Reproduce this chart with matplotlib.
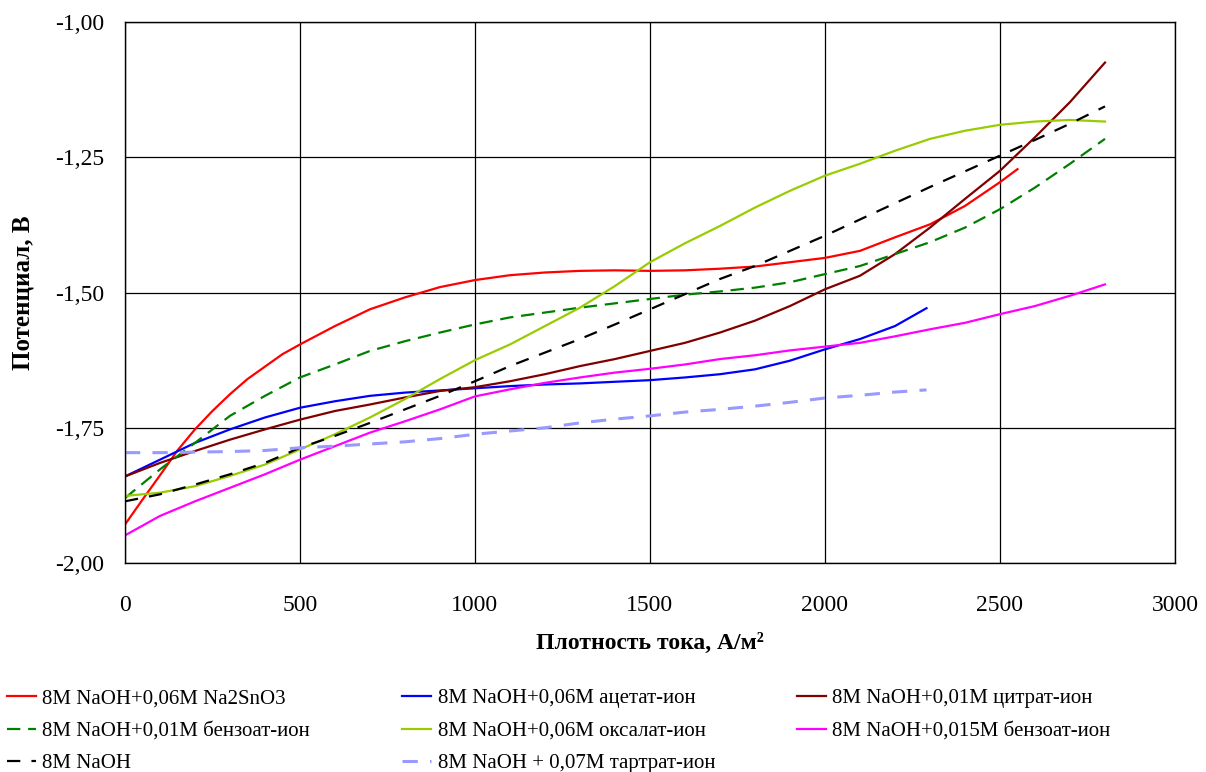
import numpy as np
import matplotlib
matplotlib.use("Agg")
import matplotlib.pyplot as plt

plt.rcParams["font.family"] = ["Liberation Serif", "DejaVu Serif"]

x_full = [0, 100, 200, 300, 400, 500, 600, 700, 800, 900, 1000, 1100, 1200, 1300,
          1400, 1500, 1600, 1700, 1800, 1900, 2000, 2100, 2200, 2300, 2400, 2500,
          2600, 2700, 2800]

# 8M NaOH+0,06M Na2SnO3 (ends at ~2550)
x_sn = [0, 50, 100, 150, 200, 250, 300, 350, 400, 450, 500, 600, 700, 800, 900, 1000,
        1100, 1200, 1300, 1400, 1500, 1600, 1700, 1800, 1900, 2000, 2100, 2200, 2300,
        2400, 2500, 2550]
y_sn = [-1.929, -1.883, -1.838, -1.792, -1.753, -1.719, -1.688, -1.660, -1.637, -1.614,
        -1.596, -1.562, -1.531, -1.509, -1.490, -1.477, -1.468, -1.463, -1.460, -1.459,
        -1.460, -1.459, -1.456, -1.452, -1.444, -1.436, -1.423, -1.398, -1.374, -1.340,
        -1.296, -1.272]

# 8M NaOH+0,06M ацетат-ион (ends at ~2290)
x_ac = x_full[:23] + [2290]
y_ac = [-1.840, -1.809, -1.778, -1.753, -1.731, -1.713, -1.701, -1.691, -1.685, -1.681,
        -1.677, -1.673, -1.670, -1.668, -1.665, -1.662, -1.657, -1.651, -1.642, -1.626,
        -1.605, -1.586, -1.562, -1.529]

# 8M NaOH+0,01M цитрат-ион
y_cit = [-1.840, -1.815, -1.793, -1.772, -1.753, -1.735, -1.719, -1.707, -1.694, -1.682,
         -1.675, -1.664, -1.651, -1.636, -1.623, -1.608, -1.593, -1.574, -1.552, -1.525,
         -1.494, -1.469, -1.429, -1.380, -1.327, -1.275, -1.213, -1.148, -1.075]

# 8M NaOH+0,01M бензоат-ион
y_bz1 = [-1.880, -1.827, -1.778, -1.728, -1.691, -1.657, -1.633, -1.608, -1.590, -1.574,
         -1.559, -1.546, -1.537, -1.528, -1.520, -1.512, -1.504, -1.498, -1.491, -1.481,
         -1.466, -1.451, -1.429, -1.407, -1.380, -1.346, -1.306, -1.262, -1.216]

# 8M NaOH+0,06M оксалат-ион
y_ox = [-1.876, -1.870, -1.858, -1.839, -1.818, -1.790, -1.762, -1.731, -1.697, -1.660,
        -1.625, -1.596, -1.562, -1.528, -1.488, -1.444, -1.409, -1.377, -1.343, -1.312,
        -1.284, -1.262, -1.238, -1.216, -1.201, -1.190, -1.184, -1.181, -1.184]

# 8M NaOH+0,015M бензоат-ион
y_bz2 = [-1.949, -1.913, -1.886, -1.861, -1.836, -1.809, -1.784, -1.759, -1.738, -1.716,
         -1.692, -1.679, -1.667, -1.657, -1.648, -1.641, -1.633, -1.623, -1.616, -1.607,
         -1.600, -1.593, -1.581, -1.568, -1.556, -1.540, -1.525, -1.506, -1.485]

# 8M NaOH
y_naoh = [-1.886, -1.873, -1.855, -1.836, -1.815, -1.787, -1.765, -1.741, -1.716, -1.691,
          -1.664, -1.636, -1.611, -1.586, -1.559, -1.531, -1.503, -1.475, -1.451, -1.423,
          -1.395, -1.365, -1.335, -1.305, -1.276, -1.247, -1.218, -1.188, -1.156]

# 8M NaOH + 0,07M тартрат-ион (ends at ~2290)
x_tar = x_full[:23] + [2290]
y_tar = [-1.796, -1.796, -1.795, -1.794, -1.792, -1.787, -1.784, -1.780, -1.776, -1.770,
         -1.762, -1.756, -1.750, -1.741, -1.734, -1.728, -1.721, -1.716, -1.710, -1.703,
         -1.695, -1.690, -1.684, -1.680]

fig = plt.figure(figsize=(12.06, 7.72), dpi=100)
ax = fig.add_axes([0.1036, 0.2707, 0.8707, 0.7008])

lw = 1.6
l_sn, = ax.plot(x_sn, y_sn, color="#ff0000", lw=lw, label="8M NaOH+0,06M Na2SnO3")
l_ac, = ax.plot(x_ac, y_ac, color="#0000ff", lw=lw, label="8M NaOH+0,06M ацетат-ион")
l_cit, = ax.plot(x_full, y_cit, color="#800000", lw=lw, label="8M NaOH+0,01M цитрат-ион")
l_bz1, = ax.plot(x_full, y_bz1, color="#008000", lw=lw, dashes=(6, 3.5),
                 label="8M NaOH+0,01M бензоат-ион")
l_ox, = ax.plot(x_full, y_ox, color="#99cc00", lw=lw, label="8M NaOH+0,06M оксалат-ион")
l_bz2, = ax.plot(x_full, y_bz2, color="#ff00ff", lw=lw, label="8M NaOH+0,015M бензоат-ион")
l_naoh, = ax.plot(x_full, y_naoh, color="#000000", lw=lw, dashes=(6, 5), label="8M NaOH")
l_tar, = ax.plot(x_tar, y_tar, color="#9999ff", lw=2.2, dashes=(5, 4),
                 label="8M NaOH + 0,07M тартрат-ион")

ax.set_xlim(0, 3000)
ax.set_ylim(-2.0, -1.0)
ax.set_xticks([0, 500, 1000, 1500, 2000, 2500, 3000])
yt = [-2.0, -1.75, -1.5, -1.25, -1.0]
ax.set_yticks(yt)
ax.set_yticklabels([("%.2f" % v).replace(".", ",") for v in yt])
ax.tick_params(labelsize=17, length=0)
ax.tick_params(axis="x", pad=23)
ax.tick_params(axis="y", pad=15)
ax.grid(True, color="#000000", lw=0.9)
for s in ax.spines.values():
    s.set_color("black")
    s.set_linewidth(1.0)

ax.set_xlabel("Плотность тока, А/м²", fontsize=17, fontweight="bold", labelpad=12)
ax.set_ylabel("Потенциал, В", fontsize=18, fontweight="bold", labelpad=15)

# one legend per column, Excel-style fixed column positions
columns = [[l_sn, l_bz1, l_naoh], [l_ac, l_ox, l_tar], [l_cit, l_bz2]]
col_x = [-0.010, 0.318, 0.645]
for hs, cx in zip(columns, col_x):
    fig.legend(handles=hs, labels=[h.get_label() for h in hs],
               loc="upper left", bbox_to_anchor=(cx, 0.132), ncol=1, frameon=False,
               fontsize=15, handlelength=1.4, handletextpad=0.3,
               labelspacing=0.62)

fig.savefig("out.png", dpi=100)
